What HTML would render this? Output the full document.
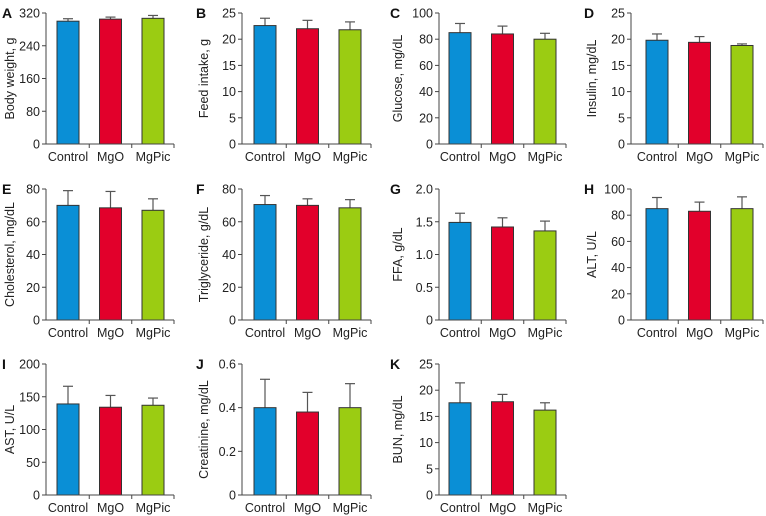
<!DOCTYPE html>
<html><head><meta charset="utf-8">
<style>
html,body{margin:0;padding:0;background:#fff;}
svg{display:block;font-family:"Liberation Sans",Arial,sans-serif;}
</style></head>
<body>
<svg id="chart" width="766" height="516" viewBox="0 0 766 516"></svg>
<script>
const categories = ["Control","MgO","MgPic"];
const panelLetters = ["A","B","C","D","E","F","G","H","I","J","K"];
const yTitles = ["Body weight, g","Feed intake, g","Glucose, mg/dL","Insulin, mg/dL","Cholesterol, mg/dL","Triglyceride, g/dL","FFA, g/dL","ALT, U/L","AST, U/L","Creatinine, mg/dL","BUN, mg/dL"];
const meansA=[300,305,307], errA=[6,5,7];
const meansB=[22.6,22.0,21.8], errB=[1.4,1.6,1.5];
const meansC=[85,84,80], errC=[7,6,4.5];
const meansD=[19.8,19.4,18.8], errD=[1.2,1.1,0.3];
const meansE=[70,68.5,67], errE=[9,10,7];
const meansF=[70.5,70,68.5], errF=[5.5,4,5];
const meansG=[1.49,1.42,1.36], errG=[0.14,0.14,0.15];
const meansH=[85,83,85], errH=[8.5,7,9];
const meansI=[139,134,137], errI=[27,18,11];
const meansJ=[0.40,0.38,0.40], errJ=[0.13,0.09,0.11];
const meansK=[17.6,17.8,16.2], errK=[3.8,1.4,1.4];
const ticksA=["0","80","160","240","320"];
const ticksB=["0","5","10","15","20","25"];
const ticksC=["0","20","40","60","80","100"];
const ticksD=["0","5","10","15","20","25"];
const ticksE=["0","20","40","60","80"];
const ticksF=["0","20","40","60","80"];
const ticksG=["0","0.5","1.0","1.5","2.0"];
const ticksH=["0","20","40","60","80","100"];
const ticksI=["0","50","100","150","200"];
const ticksJ=["0","0.2","0.4","0.6"];
const ticksK=["0","5","10","15","20","25"];

const allMeans=[meansA,meansB,meansC,meansD,meansE,meansF,meansG,meansH,meansI,meansJ,meansK];
const allErrs=[errA,errB,errC,errD,errE,errF,errG,errH,errI,errJ,errK];
const allTicks=[ticksA,ticksB,ticksC,ticksD,ticksE,ticksF,ticksG,ticksH,ticksI,ticksJ,ticksK];
const colors=["#0a8fd6","#e2002b","#9bcc12"];
const NS="http://www.w3.org/2000/svg";
const svg=document.getElementById('chart');
function mk(tag,attrs,parent){const e=document.createElementNS(NS,tag);for(const k in attrs)e.setAttribute(k,attrs[k]);(parent||svg).appendChild(e);return e;}

const barX0=[57,254,449,646];
const axisGap=[11,12,10,15];
const rowTop=[13,189,364];
const plotH=131;
const catStep=42.5, barW=22;

for(let p=0;p<11;p++){
  const col=p%4,row=Math.floor(p/4);
  const g=mk('g',{});
  
  
  const top=rowTop[row], base=top+plotH;
  const ticks=allTicks[p];
  const tmin=parseFloat(ticks[0]), tmax=parseFloat(ticks[ticks.length-1]);
  const y=v=>base-(v-tmin)/(tmax-tmin)*plotH;
  const ax=barX0[col]-axisGap[col];
  const axEnd=barX0[col]+2*catStep+barW+10;
  const x=i=>barX0[col]+i*catStep;
  const L=mk('text',{x:col*194+2,y:top+5,'font-size':14,'font-weight':'bold',fill:'#111'},g);
  L.textContent=panelLetters[p];
  
  
  const yt=mk('text',{x:0,y:0,'font-size':12.5,fill:'#222','text-anchor':'middle',transform:`translate(${col*194+14},${top+plotH/2}) rotate(-90)`},g);
  yt.textContent=yTitles[p];
  
  
  const m=allMeans[p],e=allErrs[p];
  for(let i=0;i<3;i++){
    const bx=x(i), by=y(m[i]), ey=y(m[i]+e[i]);
    const cx=bx+barW/2;
    const el=mk('line',{x1:cx,x2:cx,y1:by,y2:ey,stroke:'#555','stroke-width':1.2},g);
    
    
    const cap=mk('line',{x1:cx-5,x2:cx+5,y1:ey,y2:ey,stroke:'#555','stroke-width':1.2},g);
    
    
    const r=mk('rect',{x:bx,y:by,width:barW,height:base-by,fill:colors[i],stroke:'#333','stroke-width':1},g);
    
    
    const t=mk('text',{x:cx,y:base+17,'font-size':12.5,fill:'#222','text-anchor':'middle'},g);
    t.textContent=categories[i];
    
    
    if(i<2){const tk=mk('line',{x1:bx+barW+(catStep-barW)/2,x2:bx+barW+(catStep-barW)/2,y1:base,y2:base+4,stroke:'#444'},g);
      
      }
  }
  const ya=mk('line',{x1:ax,x2:ax,y1:top,y2:base,stroke:'#444','stroke-width':1},g);
  
  
  const xa=mk('line',{x1:ax,x2:axEnd,y1:base,y2:base,stroke:'#444','stroke-width':1},g);
  
  
  const te=mk('line',{x1:axEnd,x2:axEnd,y1:base,y2:base+4,stroke:'#444'},g);
  
  
  for(const tl of ticks){
    const ty=y(parseFloat(tl));
    const tk=mk('line',{x1:ax-4,x2:ax,y1:ty,y2:ty,stroke:'#444'},g);
    
    
    const tt=mk('text',{x:ax-6,y:ty+4.5,'font-size':12.5,fill:'#222','text-anchor':'end'},g);
    tt.textContent=tl;
    
    
  }
}
</script>
</body></html>
